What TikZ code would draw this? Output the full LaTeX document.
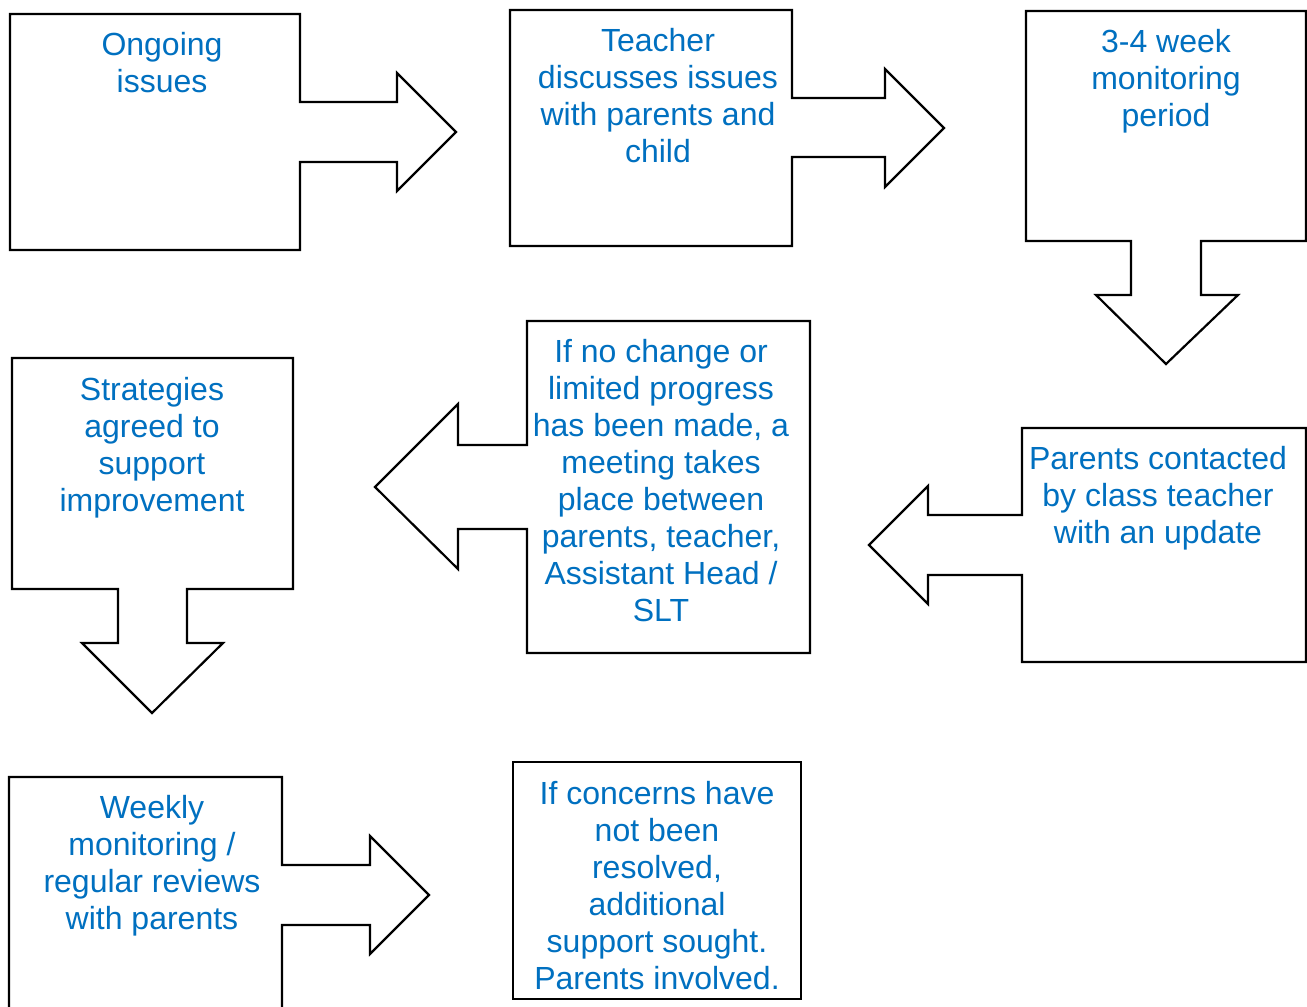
\documentclass[tikz,border=0pt]{standalone}
\usepackage{fontspec}
\setmainfont{Liberation Sans}
\definecolor{txtblue}{HTML}{0070C0}
\begin{document}
\begin{tikzpicture}[x=1pt,y=-1pt,
  shp/.style={draw=black,line width=2.2pt,line join=miter,fill=white},
  lbl/.style={anchor=north,inner sep=0pt,align=center,text=txtblue,
    font=\fontsize{32}{37}\selectfont}]
\useasboundingbox (0,0) rectangle (1307,1007);
% 1 Ongoing issues
\draw[shp] (10,14) -- (300,14) -- (300,102) -- (397,102) -- (397,73) -- (456,132) -- (397,191) -- (397,162) -- (300,162) -- (300,250) -- (10,250) -- cycle;
\node[lbl] (t1) at (162,30) {\rule{0pt}{25pt}Ongoing\\issues};
% 2 Teacher
\draw[shp] (510,10) -- (792,10) -- (792,98) -- (885,98) -- (885,69) -- (944,128) -- (885,187) -- (885,157) -- (792,157) -- (792,246) -- (510,246) -- cycle;
\node[lbl] (t2) at (658,26) {\rule{0pt}{25pt}Teacher\\discusses issues\\with parents and\\child};
% 3 3-4 week
\draw[shp] (1026,11) -- (1306,11) -- (1306,241) -- (1201,241) -- (1201,295) -- (1238,295) -- (1166,364) -- (1096,295) -- (1131,295) -- (1131,241) -- (1026,241) -- cycle;
\node[lbl] (t3) at (1166,27) {\rule{0pt}{25pt}3-4 week\\monitoring\\period};
% 4 Parents contacted
\draw[shp] (1022,428) -- (1306,428) -- (1306,662) -- (1022,662) -- (1022,575) -- (928,575) -- (928,604) -- (869,545) -- (928,486) -- (928,515) -- (1022,515) -- cycle;
\node[lbl] (t4) at (1158,444) {\rule{0pt}{25pt}Parents contacted\\by class teacher\\with an update};
% 5 If no change
\draw[shp] (527,321) -- (810,321) -- (810,653) -- (527,653) -- (527,529) -- (458,529) -- (458,569) -- (375,487) -- (458,404) -- (458,445) -- (527,445) -- cycle;
\node[lbl] (t5) at (661,337) {\rule{0pt}{25pt}If no change or\\limited progress\\has been made, a\\meeting takes\\place between\\parents, teacher,\\Assistant Head /\\SLT};
% 6 Strategies
\draw[shp] (12,358) -- (293,358) -- (293,589) -- (187,589) -- (187,643) -- (223,643) -- (152,713) -- (82,643) -- (118,643) -- (118,589) -- (12,589) -- cycle;
\node[lbl] (t6) at (152,375) {\rule{0pt}{25pt}Strategies\\agreed to\\support\\improvement};
% 7 Weekly
\draw[shp] (9,1015) -- (9,777) -- (282,777) -- (282,865) -- (370,865) -- (370,836) -- (429,895) -- (370,954) -- (370,925) -- (282,925) -- (282,1015);
\node[lbl] (t7) at (152,793) {\rule{0pt}{25pt}Weekly\\monitoring /\\regular reviews\\with parents};
% 8 If concerns
\draw[shp] (513,762) rectangle (801,999);
\node[lbl] (t8) at (657,779) {\rule{0pt}{25pt}If concerns have\\not been\\resolved,\\additional\\support sought.\\Parents involved.};
\end{tikzpicture}
\end{document}
